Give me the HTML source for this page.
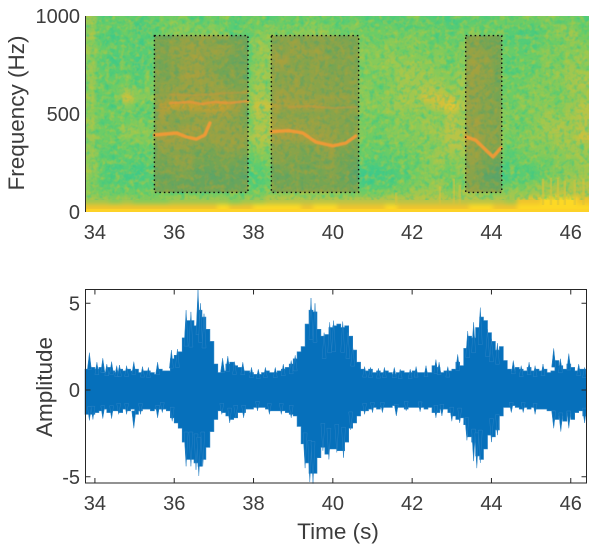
<!DOCTYPE html>
<html>
<head>
<meta charset="utf-8">
<title>Spectrogram and waveform</title>
<style>
html,body{margin:0;padding:0;background:#fff;width:606px;height:546px;overflow:hidden}
svg{display:block}
text{font-family:"Liberation Sans",sans-serif;fill:#3c3c3c}
.tick{font-size:20px}
.label{font-size:22.5px}
</style>
</head>
<body>
<svg id="chart" xmlns="http://www.w3.org/2000/svg" width="606" height="546" viewBox="0 0 606 546">
<defs>
<clipPath id="specClip"><rect x="85" y="16" width="504" height="196"/></clipPath>
<filter id="soft" x="-5%" y="-5%" width="110%" height="110%" color-interpolation-filters="sRGB"><feGaussianBlur stdDeviation="2"/></filter>
<filter id="ridgeSoft" x="-10%" y="-50%" width="120%" height="200%" color-interpolation-filters="sRGB"><feGaussianBlur stdDeviation="0.5"/></filter>
<filter id="speckA" x="0" y="0" width="100%" height="100%" color-interpolation-filters="sRGB">
<feTurbulence type="fractalNoise" baseFrequency="0.2" numOctaves="2" seed="4"/>
<feColorMatrix type="matrix" values="0 0 0 0 0.2  0 0 0 0 0.78  0 0 0 0 0.55  2.6 0 0 0 -1.15"/>
</filter>
<filter id="speckB" x="0" y="0" width="100%" height="100%" color-interpolation-filters="sRGB">
<feTurbulence type="fractalNoise" baseFrequency="0.2" numOctaves="2" seed="11"/>
<feColorMatrix type="matrix" values="0 0 0 0 0.74  0 0 0 0 0.78  0 0 0 0 0.24  2.6 0 0 0 -1.15"/>
</filter>
</defs>
<g id="spec" clip-path="url(#specClip)"></g>
<g id="axes"></g>
</svg>
<script>
// Spectrogram: rows run from top (high frequency) to bottom (0 Hz), one digit per cell
const specRows = [
"523322 333233 233233 333232 222322 122233 334332",
"432312 344343 233433 443343 332333 233332 323443",
"521322 344454 224444 454333 343432 234332 123453",
"422213 345544 325445 444434 344433 344322 223344",
"532322 455555 425545 553444 443434 345433 234444",
"421213 345644 224564 454444 454444 345532 334345",
"522312 345543 335554 443434 445544 346432 324454",
"432323 346653 425545 454443 445554 455532 334455",
"523323 445554 335445 444444 345555 455433 344456",
"433544 455555 445555 544444 345566 455433 344355",
"523744 566666 546565 555544 445577 755433 444345",
"432433 788888 647766 664444 455557 865443 444456",
"433322 645566 536544 444444 344444 654444 345456",
"523343 544555 435655 554433 334454 656443 345556",
"433544 556655 546666 555444 344455 665444 345656",
"533444 665555 556666 665443 344445 666543 445557",
"432333 555445 545544 456433 333444 665443 444555",
"522322 444334 434444 345333 233345 555432 344455",
"432223 345333 323443 344322 223345 445322 333445",
"521212 344223 222334 334311 122344 354212 223445",
"422112 233212 212223 334210 112344 344111 223455",
"422222 322222 222333 333321 223445 344223 345556",
"433333 333333 333444 444433 344555 455445 455666",
"554544 455555 455666 666666 666666 666665 889998",
"888888 888889 889999 899888 898888 889988 999999"
];
const colormap = ["#38c890","#46cb84","#58cc74","#6ccc66","#86ca5a","#a0c750","#b8c448","#d2c03c","#eec42e","#fdd825"];

// Narrow broadband streaks near 0 Hz: time and upper frequency
const streakTimes = [41.6, 42.7, 43.05, 43.2, 45.3, 45.5, 45.68, 45.85, 46.1, 46.32];
const streakFreqs = [100, 130, 170, 140, 170, 175, 175, 160, 165, 170];

// Highlighted call windows: start time, end time, low and high frequency
const boxStarts = [35.5, 38.45, 43.35];
const boxEnds = [37.86, 40.65, 44.26];
const boxFreqLow = [100, 100, 100];
const boxFreqHigh = [900, 900, 900];

// Tonal ridges seen in the spectrogram
const ridgeATimes = [35.5, 36.06, 36.31, 36.56, 36.77, 36.9];
const ridgeAFreqs = [393, 403, 383, 372, 393, 454];
const ridgeBTimes = [35.9, 36.4, 36.7, 37.0, 37.4, 37.86];
const ridgeBFreqs = [556, 561, 551, 561, 556, 566];
const ridgeCTimes = [35.9, 36.5, 37.2, 37.86];
const ridgeCFreqs = [600, 595, 605, 610];
const ridgeDTimes = [38.45, 38.9, 39.24, 39.57, 40.0, 40.33, 40.58];
const ridgeDFreqs = [410, 415, 403, 357, 337, 352, 388];
const ridgeETimes = [38.9, 39.4, 40.0, 40.6];
const ridgeEFreqs = [535, 540, 530, 535];
const ridgeFTimes = [43.35, 43.6, 44.04, 44.24];
const ridgeFFreqs = [383, 367, 281, 327];

// Waveform envelope sampled every 0.1 s starting at 33.8 s
const waveStart = 33.8;
const waveStep = 0.1;
const waveUpper = [
1.2,1.3,1.2,1.3,1.0,1.3,1.1,1.0,1.2,1.1,
1.2,1.1,1.2,1.0,1.1,1.1,1.0,0.9,1.2,1.1,
1.1,1.8,2.0,2.2,3.0,4.0,4.0,3.7,4.6,4.2,
3.5,2.8,1.5,1.0,1.1,1.5,1.6,1.4,1.3,1.1,
1.1,1.0,0.9,0.9,1.0,1.1,1.0,1.0,1.1,1.2,
1.3,1.5,1.8,2.2,2.5,3.8,4.6,4.5,3.5,3.1,
3.2,3.6,3.7,3.8,3.6,3.7,3.1,2.3,1.6,1.2,
1.1,1.2,1.0,1.1,1.0,1.1,1.0,0.9,1.0,1.1,
1.0,1.0,1.1,1.0,1.0,1.0,1.0,1.4,1.3,1.0,
1.1,1.1,1.2,1.6,1.4,2.4,3.1,3.0,3.6,4.2,
4.0,3.3,2.8,2.3,2.5,1.7,1.2,1.1,1.3,1.2,
1.1,1.3,1.1,1.2,1.1,1.2,1.0,1.1,1.7,1.4,
1.2,1.5,1.3,1.1,1.2,1.2,1.1
];
const waveLower = [
-1.4,-1.4,-1.3,-1.2,-1.1,-1.3,-1.2,-1.2,-1.3,-1.1,
-1.2,-1.1,-1.4,-1.2,-1.1,-1.1,-1.2,-1.1,-1.1,-1.1,
-1.2,-1.6,-1.9,-2.2,-3.0,-4.0,-4.0,-4.2,-4.4,-4.0,
-3.3,-2.4,-1.7,-1.2,-1.3,-1.5,-1.7,-1.6,-1.3,-1.3,
-1.1,-1.1,-1.0,-1.0,-1.0,-1.1,-1.2,-1.2,-1.2,-1.2,
-1.3,-1.4,-1.5,-2.1,-3.1,-4.2,-4.8,-4.8,-3.9,-3.3,
-3.7,-3.4,-3.4,-3.5,-3.5,-3.0,-2.2,-1.9,-1.5,-1.2,
-1.2,-1.1,-1.0,-1.1,-1.0,-1.0,-1.0,-0.9,-1.0,-1.0,
-1.1,-1.0,-1.0,-1.0,-1.0,-1.1,-1.0,-1.3,-1.3,-1.1,
-1.1,-1.3,-1.5,-1.7,-1.6,-2.0,-2.7,-3.0,-3.8,-4.0,
-3.4,-2.6,-2.7,-2.3,-1.5,-1.0,-1.0,-0.9,-1.0,-1.1,
-1.0,-1.1,-1.0,-1.1,-1.1,-1.1,-1.2,-1.2,-1.7,-1.5,
-1.8,-1.3,-1.7,-1.3,-1.2,-1.5,-1.0
];

// Individual peaks sticking out of the envelope
const peakUpTimes = [33.86,34.05,34.2,34.3,34.42,34.55,34.62,34.8,34.98,35.2,35.35,35.58,35.93,36.08,36.3,36.42,36.6,36.66,36.75,37.22,37.35,37.52,37.73,37.95,38.12,38.3,38.55,38.75,38.95,39.05,39.45,39.55,39.78,39.92,40.02,40.25,40.38,40.5,40.8,40.95,41.15,41.3,41.55,41.7,41.95,42.1,42.35,42.6,42.68,42.9,43.15,43.4,43.55,43.72,43.9,44.0,44.15,44.55,44.75,44.95,45.1,45.3,45.57,45.74,45.95,46.2,46.35];
const peakUpValues = [2.15,1.6,1.83,1.5,1.63,1.4,1.44,1.4,1.63,1.35,1.3,1.6,2.3,2.36,4.6,4.5,5.8,5.0,4.4,1.83,1.96,1.63,1.6,1.3,1.2,1.3,1.3,1.5,1.7,2.0,5.3,5.0,3.3,3.9,4.0,3.95,3.3,2.5,1.35,1.3,1.25,1.3,1.3,1.2,1.2,1.35,1.4,1.75,1.6,1.35,2.05,3.4,3.9,4.75,3.5,2.95,2.7,1.7,1.4,1.6,1.4,1.5,2.4,1.8,2.1,1.5,1.3];
const peakDownTimes = [33.86,33.95,34.2,34.42,34.6,34.8,34.98,35.15,35.58,35.7,35.95,36.3,36.42,36.55,36.62,36.72,37.2,37.4,37.55,37.75,38.1,38.4,38.7,38.95,39.3,39.42,39.5,39.75,39.9,40.1,40.27,40.45,40.8,41.0,41.25,41.6,41.85,42.2,42.6,42.75,43.0,43.2,43.38,43.55,43.63,43.72,44.0,44.15,44.5,44.8,45.1,45.57,45.75,45.95,46.35];
const peakDownValues = [-1.75,-1.7,-1.65,-1.65,-1.4,-1.4,-2.2,-1.4,-1.6,-1.3,-1.8,-4.4,-4.4,-4.6,-4.95,-4.4,-1.4,-1.9,-1.6,-1.6,-1.2,-1.4,-1.4,-1.6,-4.5,-5.3,-5.4,-3.5,-4.0,-3.6,-3.9,-2.3,-1.4,-1.3,-1.3,-1.5,-1.2,-1.25,-1.6,-1.5,-1.8,-1.9,-2.9,-4.1,-4.5,-4.2,-3.0,-2.6,-1.3,-1.3,-1.4,-2.2,-2.4,-2.2,-1.9];

// Tick labels
const timeTicks = [34, 36, 38, 40, 42, 44, 46];
const freqTicks = [0, 500, 1000];
const ampTicks = [-5, 0, 5];

const NS = "http://www.w3.org/2000/svg";
const specGroup = document.getElementById("spec");
const axesGroup = document.getElementById("axes");

function make(tag, attrs, parent) {
  const el = document.createElementNS(NS, tag);
  for (const k in attrs) el.setAttribute(k, attrs[k]);
  parent.appendChild(el);
  return el;
}

// Axis functions
const timeMin = 33.75, timeMax = 46.46;
function xScale(t) { return 85 + (t - timeMin) / (timeMax - timeMin) * 504; }
function freqScale(f) { return 212 - f * 0.196; }
function ampScale(a) { return 390 - a * 17.35; }

// Heatmap
const grid = make("g", {filter: "url(#soft)"}, specGroup);


const cleanRows = specRows.map(function (r) { return r.replace(/ /g, ""); });
const nRows = cleanRows.length;
const freqCell = 1000 / nRows;
cleanRows.forEach(function (row, r) {
  const nCols = row.length;
  const timeCell = (timeMax - timeMin) / nCols;
  for (let c = 0; c < nCols; c++) {
    const level = Number(row[c]);
    const fTop = 1000 - r * freqCell;
    const grow = (r === nRows - 1) ? 12 : 0.5;
    const cell = make("rect", {
      x: xScale(timeMin + c * timeCell) - (c === 0 ? 8 : 0),
      y: freqScale(fTop) - (r === 0 ? 8 : 0),
      width: xScale(timeCell + timeMin) - 85 + (c === 0 || c === nCols - 1 ? 8.5 : 0.5),
      height: freqScale(fTop - freqCell) - freqScale(fTop) + grow + (r === 0 ? 8 : 0),
      fill: colormap[level]
    }, grid);
    
    
  }
});

// Speckle texture (visual grain only)
const speckA = make("rect", {x: 85, y: 16, width: 504, height: 184, filter: "url(#speckA)", opacity: 0.6}, specGroup);


const speckB = make("rect", {x: 85, y: 16, width: 504, height: 184, filter: "url(#speckB)", opacity: 0.6}, specGroup);



// Broadband streaks
streakTimes.forEach(function (t, i) {
  const top = freqScale(streakFreqs[i]);
  const streak = make("rect", {x: xScale(t) - 1.2, y: top, width: 2.4, height: 205 - top, fill: "#d8c23c", opacity: 0.55}, specGroup);
  
  
});

// Bright floor band
const floorBand = make("rect", {x: 85, y: freqScale(16), width: 504, height: freqScale(0) - freqScale(16), fill: "#fdd228"}, specGroup);



// Ridges
function drawRidge(times, freqs, color, width, opacity) {
  const d = times.map(function (t, i) {
    return (i ? "L" : "M") + xScale(t).toFixed(1) + " " + freqScale(freqs[i]).toFixed(1);
  }).join("");
  const ridge = make("path", {d: d, fill: "none", stroke: color, "stroke-width": width, "stroke-linecap": "round", "stroke-linejoin": "round", opacity: opacity, filter: "url(#ridgeSoft)"}, specGroup);
  
  
}

// Call window shading
boxStarts.forEach(function (start, i) {
  const bx = xScale(start);
  const by = freqScale(boxFreqHigh[i]);
  const bw = xScale(boxEnds[i]) - bx;
  const bh = freqScale(boxFreqLow[i]) - by;
  const shade = make("rect", {x: bx, y: by, width: bw, height: bh, fill: "#8a5a30", opacity: 0.34}, specGroup);
  
  
});

drawRidge(ridgeATimes, ridgeAFreqs, "#f29a36", 3.4, 0.95);
drawRidge(ridgeBTimes, ridgeBFreqs, "#e8963a", 2.6, 0.8);
drawRidge(ridgeCTimes, ridgeCFreqs, "#c4983c", 2.2, 0.5);
drawRidge(ridgeDTimes, ridgeDFreqs, "#f29a36", 3.4, 0.95);
drawRidge(ridgeETimes, ridgeEFreqs, "#c8983c", 2.4, 0.55);
drawRidge(ridgeFTimes, ridgeFFreqs, "#f29a36", 3.4, 0.95);

boxStarts.forEach(function (start, i) {
  const bx = xScale(start);
  const by = freqScale(boxFreqHigh[i]);
  const bw = xScale(boxEnds[i]) - bx;
  const bh = freqScale(boxFreqLow[i]) - by;
  const outline = make("rect", {x: bx, y: by, width: bw, height: bh, fill: "none", stroke: "#0c0c0c", "stroke-width": 1.4, "stroke-dasharray": "1.5 3"}, specGroup);
  
  
});

// Waveform body drawn as stepped envelope
let wavePath = "";
waveUpper.forEach(function (v, i) {
  const px = xScale(waveStart + i * waveStep).toFixed(1);
  wavePath += (i ? "H" + px + "V" : "M" + px + " ") + ampScale(v).toFixed(1);
});
for (let i = waveLower.length - 1; i >= 0; i--) {
  const px = xScale(waveStart + i * waveStep).toFixed(1);
  wavePath += "V" + ampScale(waveLower[i]).toFixed(1) + "H" + px;
}
wavePath = "M" + xScale(timeMin).toFixed(1) + " " + ampScale(waveUpper[0]).toFixed(1) + "L" + wavePath.slice(1) + "L" + xScale(timeMin).toFixed(1) + " " + ampScale(waveLower[0]).toFixed(1) + "Z";
const wave = make("path", {d: wavePath, fill: "#0670bb", stroke: "#2a82c4", "stroke-width": 0.6}, axesGroup);



// Waveform peaks
function drawPeak(t, v) {
  const tipX = xScale(t);
  const d = "M" + (tipX - 2).toFixed(1) + " " + ampScale(v * 0.55).toFixed(1) +
            "L" + tipX.toFixed(1) + " " + ampScale(v).toFixed(1) +
            "L" + (tipX + 2).toFixed(1) + " " + ampScale(v * 0.55).toFixed(1) + "Z";
  const peak = make("path", {d: d, fill: "#0670bb", stroke: "#2a82c4", "stroke-width": 0.5}, axesGroup);
  
  
}
peakUpTimes.forEach(function (t, i) { drawPeak(t, peakUpValues[i]); });
peakDownTimes.forEach(function (t, i) { drawPeak(t, peakDownValues[i]); });

// Axes frames
const topSpine = make("line", {x1: 85.5, y1: 16, x2: 85.5, y2: 212, stroke: "#2a2a2a", "stroke-width": 1}, axesGroup);


const frame = make("rect", {x: 85.5, y: 289.5, width: 501, height: 193.5, fill: "none", stroke: "#262626", "stroke-width": 1}, axesGroup);



// Ticks and labels
timeTicks.forEach(function (t) {
  const tx = xScale(t);
  const l1 = make("text", {x: tx, y: 239, "text-anchor": "middle", class: "tick"}, axesGroup);
  l1.textContent = t;
  
  
  const l2 = make("text", {x: tx, y: 510, "text-anchor": "middle", class: "tick"}, axesGroup);
  l2.textContent = t;
  
  
  const tb = make("line", {x1: tx, y1: 483, x2: tx, y2: 478, stroke: "#262626", "stroke-width": 1}, axesGroup);
  
  
  const tt = make("line", {x1: tx, y1: 289.5, x2: tx, y2: 294.5, stroke: "#262626", "stroke-width": 1}, axesGroup);
  
  
});
freqTicks.forEach(function (f) {
  const lab = make("text", {x: 80, y: freqScale(f) + 7, "text-anchor": "end", class: "tick"}, axesGroup);
  lab.textContent = f;
  
  
});
ampTicks.forEach(function (a) {
  const ay = ampScale(a);
  const lab = make("text", {x: 80, y: ay + 7, "text-anchor": "end", class: "tick"}, axesGroup);
  lab.textContent = a;
  
  
  const tl = make("line", {x1: 85.5, y1: ay, x2: 90.5, y2: ay, stroke: "#262626", "stroke-width": 1}, axesGroup);
  
  
  const tr = make("line", {x1: 586.5, y1: ay, x2: 581.5, y2: ay, stroke: "#262626", "stroke-width": 1}, axesGroup);
  
  
});

const yTitleTop = make("text", {x: 0, y: 0, transform: "translate(24 113) rotate(-90)", "text-anchor": "middle", class: "label"}, axesGroup);
yTitleTop.textContent = "Frequency (Hz)";


const yTitleBottom = make("text", {x: 0, y: 0, transform: "translate(52 387) rotate(-90)", "text-anchor": "middle", class: "label"}, axesGroup);
yTitleBottom.textContent = "Amplitude";


const xTitle = make("text", {x: 338, y: 539, "text-anchor": "middle", class: "label"}, axesGroup);
xTitle.textContent = "Time (s)";


</script>
</body>
</html>
